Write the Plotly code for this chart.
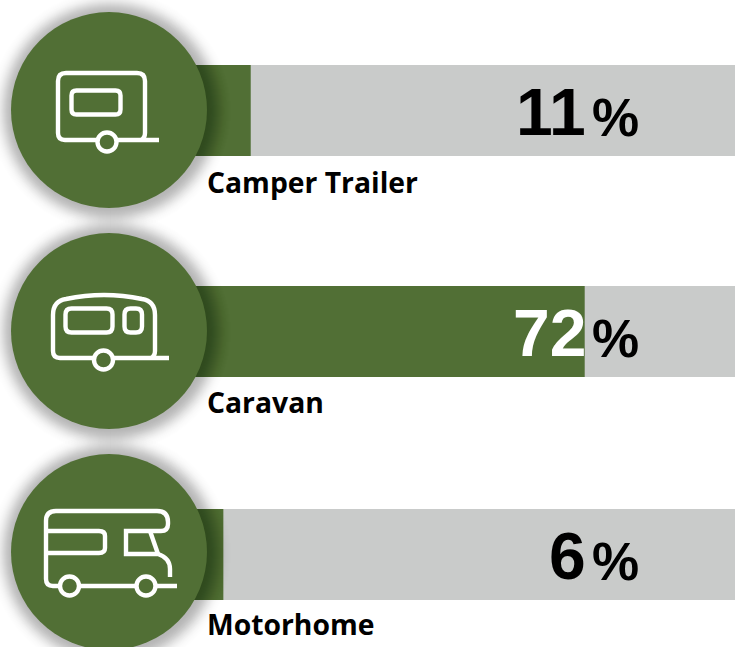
import math
import re
import plotly.graph_objects as go

W, H = 735, 647
categories = ["Camper Trailer", "Caravan", "Motorhome"]
values = [11, 72, 6]
track_max = 100
GREEN, GREY = "#516f35", "#c9cbca"

# layout constants (page pixels)
ROW_Y = [110.5, 331.5, 554.5]
CIRCLE_Y = [110, 331, 552]
CIRCLE_X, CIRCLE_R = 109, 98
LABEL_Y = [182, 402, 624]
ZERO_PX, PX_PER_UNIT = 190.5, 5.475


def px(x):
    return x / W


def py(y):
    return 1 - y / H


def path(d):
    toks = re.findall(r"[MLQZ]|-?[\d.]+", d)
    out, isx = [], True
    for t in toks:
        if t in "MLQZ":
            out.append(t)
            isx = True
        else:
            out.append(f"{px(float(t)):.5f}" if isx else f"{py(float(t)):.5f}")
            isx = not isx
    return " ".join(out)


def line_shape(d):
    return dict(type="path", xref="paper", yref="paper", path=path(d),
                line=dict(color="white", width=4.4), fillcolor="rgba(0,0,0,0)")


def circle(cx, cy, r, fill, line=None):
    return dict(type="circle", xref="paper", yref="paper",
                x0=px(cx - r), x1=px(cx + r), y0=py(cy + r), y1=py(cy - r),
                fillcolor=fill, line=line or dict(width=0))


def rrect(x0, y0, x1, y1, r):
    return (f"M {x0 + r} {y0} L {x1 - r} {y0} Q {x1} {y0} {x1} {y0 + r} L {x1} {y1 - r} "
            f"Q {x1} {y1} {x1 - r} {y1} L {x0 + r} {y1} Q {x0} {y1} {x0} {y1 - r} "
            f"L {x0} {y0 + r} Q {x0} {y0} {x0 + r} {y0} Z")


def glow(d):
    return 0.30 * math.exp(-(d / 12.0) ** 2)


fig = go.Figure()
fig.add_bar(y=ROW_Y, x=[track_max] * 3, orientation="h", width=91,
            marker=dict(color=GREY, line_width=0), hoverinfo="skip")
fig.add_bar(y=ROW_Y, x=values, orientation="h", width=91,
            marker=dict(color=GREEN, line_width=0), hoverinfo="skip")

shapes = []
for cy in CIRCLE_Y:
    for d in range(28, -1, -1):
        a = glow(d) - glow(d + 1)
        shapes.append(circle(CIRCLE_X + 1.5, cy + 1, CIRCLE_R + d, f"rgba(0,0,0,{a:.4f})"))
    shapes.append(circle(CIRCLE_X, cy, CIRCLE_R, GREEN))

wheel = dict(color="white", width=4.4)
# camper trailer
shapes += [
    line_shape("M 159 140 L 65 140 Q 58 140 58 133 L 58 81 Q 58 73 66 73 L 137 73 "
               "Q 145 73 145 81 L 145 133 Q 145 138 141 140"),
    line_shape(rrect(71.5, 90.5, 120.5, 114.5, 5)),
    circle(107, 142, 9.5, GREEN, wheel),
]
# caravan
shapes += [
    line_shape("M 169 358 L 60 358 Q 53 358 53 351 L 53 315 Q 53 301 66 299 "
               "Q 104 291 142 299 Q 155 301 155 315 L 155 351 Q 155 356 151 358"),
    line_shape(rrect(65.5, 308.5, 112.5, 332.5, 6)),
    line_shape(rrect(124.5, 308.5, 142, 332.5, 6)),
    circle(103.5, 360, 9.5, GREEN, wheel),
]
# motorhome
shapes += [
    line_shape("M 177 586 L 53 586 Q 46 586 46 579 L 46 521 Q 46 511 56 511 L 157 511 "
               "Q 168 511 168 522 L 168 524 Q 168 531 161 531 L 126 531 L 126 554 L 158 554 "
               "Q 170 558 170 569 L 170 577"),
    line_shape("M 150 531 L 158 554"),
    line_shape("M 46 531 L 99 531 Q 105 531 105 536 L 105 548 Q 105 553 99 553 L 46 553"),
    circle(69.5, 586, 9.5, GREEN, wheel),
    circle(146, 586, 9.5, GREEN, wheel),
]

ann = []
for name, v, by, ly in zip(categories, values, ROW_Y, LABEL_Y):
    ann.append(dict(xref="paper", yref="paper", x=px(587.5), y=py(by + 1), xanchor="right", yanchor="middle",
                    text=f"<b>{v}</b>", showarrow=False,
                    font=dict(family="Liberation Sans", size=66,
                              color="white" if v > 50 else "black")))
    ann.append(dict(xref="paper", yref="paper", x=px(641), y=py(by + 7), xanchor="right", yanchor="middle",
                    text="<b>%</b>", showarrow=False,
                    font=dict(family="Liberation Sans", size=53, color="black")))
    ann.append(dict(xref="paper", yref="paper", x=px(204.5), y=py(ly), xanchor="left", yanchor="middle",
                    text=name, showarrow=False,
                    font=dict(family="Open Sans", size=28.3, color="black", weight=700)))

fig.update_layout(
    width=W, height=H, margin=dict(l=0, r=0, t=0, b=0), autosize=False,
    paper_bgcolor="white", plot_bgcolor="white", barmode="overlay", showlegend=False,
    xaxis=dict(range=[-ZERO_PX / PX_PER_UNIT, (W - ZERO_PX) / PX_PER_UNIT], visible=False, fixedrange=True),
    yaxis=dict(range=[H, 0], visible=False, fixedrange=True),
    shapes=shapes, annotations=ann,
)
fig.write_html("out.html", config=dict(displayModeBar=False),
               post_script="document.body.style.margin='0';document.documentElement.style.overflow='hidden';")
